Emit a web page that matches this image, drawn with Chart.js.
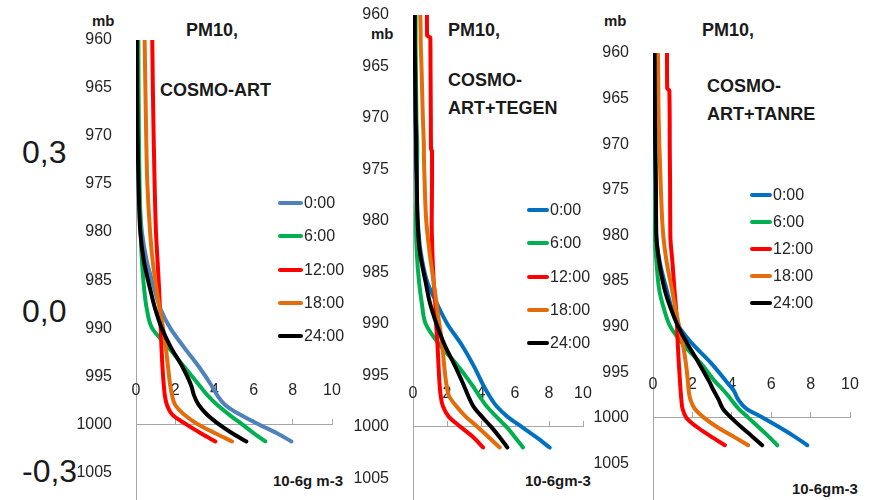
<!DOCTYPE html>
<html>
<head>
<meta charset="utf-8">
<title>PM10 vertical profiles</title>
<script src="https://cdn.jsdelivr.net/npm/chart.js"></script>
<style>
  html, body { margin: 0; padding: 0; width: 876px; height: 500px; overflow: hidden; background: #fff; }
  #page { position: relative; width: 876px; height: 500px; color: #1a1a1a;
          font-family: "Liberation Sans", Arial, sans-serif; }
  canvas { position: absolute; }
  .txt { position: absolute; white-space: nowrap; line-height: 1; transform: translateY(-50%); }
  .b { font-weight: bold; font-size: 15px; }
  .title { font-size: 18px; font-weight: bold; }
  .big { font-size: 32px; }
  .leg { position: absolute; display: flex; align-items: center; white-space: nowrap;
         font-size: 16px; line-height: 1; color: #262626; transform: translateY(-50%); }
  .leg i { display: inline-block; height: 4px; border-radius: 2px; margin-right: 1px; }
</style>
</head>
<body>
<div id="page">
  <div class="txt big" style="left:22px; top:152px">0,3</div>
  <div class="txt big" style="left:22px; top:311px">0,0</div>
  <div class="txt big" style="left:22px; top:471px">-0,3</div>

  <div class="txt b" style="left:92px; top:20px">mb</div>
  <div class="txt title" style="left:186px; top:30px">PM10,</div>
  <div class="txt title" style="left:160px; top:90px">COSMO-ART</div>
  <div class="txt b" style="left:273px; top:480px">10-6g m-3</div>

  <div class="txt b" style="left:371px; top:33px">mb</div>
  <div class="txt title" style="left:448px; top:30px">PM10,</div>
  <div class="txt title" style="left:448px; top:80px">COSMO-</div>
  <div class="txt title" style="left:448px; top:108px">ART+TEGEN</div>
  <div class="txt b" style="left:525px; top:480px">10-6gm-3</div>

  <div class="txt b" style="left:604px; top:20px">mb</div>
  <div class="txt title" style="left:702px; top:30px">PM10,</div>
  <div class="txt title" style="left:707px; top:86px">COSMO-</div>
  <div class="txt title" style="left:707px; top:114px">ART+TANRE</div>
  <div class="txt b" style="left:792px; top:488px">10-6gm-3</div>

  <canvas id="art" width="272" height="475" style="left:76px; top:26px"></canvas>
  <canvas id="tegen" width="246" height="499" style="left:353px; top:1px"></canvas>
  <canvas id="tanre" width="273" height="461" style="left:593px; top:39px"></canvas>
</div>

<script>
// ---- data ----
const seriesLabels = ['0:00', '6:00', '12:00', '18:00', '24:00'];
const xTicks = [0, 2, 4, 6, 8, 10];
const yTicks = [960, 965, 970, 975, 980, 985, 990, 995, 1000, 1005];

// COSMO-ART
const pressureArt = [960, 965, 970, 975, 980, 983, 986, 988, 990, 992, 994, 996, 997, 998, 999, 1000, 1001, 1001.8];
const art00 = [0.05, 0.06, 0.08, 0.14, 0.30, 0.55, 0.95, 1.25, 1.75, 2.45, 3.20, 3.86, 4.15, 4.55, 5.30, 6.25, 7.24, 7.93];
const art06 = [0.12, 0.13, 0.15, 0.18, 0.24, 0.30, 0.42, 0.55, 0.82, 1.65, 2.45, 3.25, 3.65, 4.15, 4.75, 5.40, 6.05, 6.60];
const art12 = [0.83, 0.86, 0.90, 0.95, 1.02, 1.10, 1.18, 1.22, 1.26, 1.30, 1.35, 1.42, 1.47, 1.58, 1.85, 2.55, 3.35, 4.05];
const art18 = [0.44, 0.48, 0.52, 0.58, 0.72, 0.85, 1.05, 1.21, 1.38, 1.52, 1.63, 1.75, 1.84, 2.00, 2.45, 3.15, 4.10, 4.90];
const art24 = [0.05, 0.06, 0.08, 0.13, 0.22, 0.40, 0.73, 0.98, 1.31, 1.78, 2.36, 2.82, 2.96, 3.20, 3.62, 4.22, 4.95, 5.63];

// COSMO-ART+TEGEN
const pressureTegen = [960, 962, 962.2, 965, 970, 973, 973.2, 976, 980, 983, 986, 988, 990, 992, 994, 996, 997, 998, 999, 1000, 1001, 1002];
const teg00 = [0.10, 0.10, 0.10, 0.11, 0.14, 0.17, 0.17, 0.20, 0.28, 0.45, 0.85, 1.40, 2.02, 2.85, 3.55, 4.15, 4.50, 4.92, 5.55, 6.40, 7.25, 8.04];
const teg06 = [0.15, 0.15, 0.15, 0.17, 0.20, 0.25, 0.25, 0.22, 0.18, 0.22, 0.36, 0.52, 0.75, 1.55, 2.60, 3.50, 3.90, 4.33, 4.90, 5.50, 6.00, 6.47];
const teg12 = [0.82, 0.83, 1.02, 1.03, 1.05, 1.06, 1.12, 1.12, 1.10, 1.14, 1.22, 1.31, 1.36, 1.44, 1.50, 1.57, 1.63, 1.76, 2.10, 2.80, 3.55, 4.12];
const teg18 = [0.43, 0.45, 0.45, 0.50, 0.58, 0.64, 0.64, 0.68, 0.78, 0.97, 1.22, 1.38, 1.55, 1.72, 1.83, 1.98, 2.12, 2.55, 3.10, 3.80, 4.45, 5.10];
const teg24 = [0.10, 0.10, 0.10, 0.12, 0.16, 0.19, 0.19, 0.22, 0.27, 0.40, 0.75, 1.00, 1.38, 1.85, 2.45, 3.00, 3.25, 3.55, 4.05, 4.60, 5.10, 5.55];

// COSMO-ART+TANRE
const pressureTanre = [960, 963.9, 964.1, 970, 975, 980, 983, 986, 988, 990, 992, 994, 996, 997, 998, 999, 1000, 1001, 1002, 1003];
const tan00 = [0.08, 0.09, 0.09, 0.10, 0.12, 0.16, 0.35, 0.70, 0.95, 1.32, 2.05, 2.95, 3.72, 4.10, 4.33, 4.75, 5.60, 6.40, 7.15, 7.83];
const tan06 = [0.12, 0.12, 0.12, 0.13, 0.12, 0.10, 0.18, 0.32, 0.55, 0.88, 1.55, 2.42, 3.15, 3.59, 3.97, 4.35, 4.85, 5.35, 5.85, 6.31];
const tan12 = [0.71, 0.72, 0.83, 0.85, 0.87, 0.88, 0.99, 1.09, 1.17, 1.22, 1.26, 1.31, 1.37, 1.40, 1.44, 1.50, 1.70, 2.23, 2.92, 3.65];
const tan18 = [0.25, 0.27, 0.27, 0.32, 0.40, 0.52, 0.70, 0.97, 1.14, 1.33, 1.52, 1.67, 1.77, 1.81, 1.90, 2.12, 2.60, 3.25, 4.05, 4.83];
const tan24 = [0.08, 0.09, 0.09, 0.11, 0.15, 0.17, 0.32, 0.60, 0.90, 1.28, 1.78, 2.33, 2.85, 3.08, 3.33, 3.55, 3.98, 4.48, 5.02, 5.54];

const colorsArt = ['#4F81BD', '#00B050', '#FF0000', '#E46C0A', '#000000'];
const colorsOther = ['#0070C0', '#00B050', '#FF0000', '#E46C0A', '#000000'];

// ---- drawing ----
const axisGray = '#A6A6A6';
const tickFont = { family: '"Liberation Sans", Arial, sans-serif', size: 16 };

function makeChart(id, pressure, series, colors, yMax, legendPos) {
  const datasets = series.map((vals, i) => ({
    label: seriesLabels[i],
    data: vals.map((v, k) => ({ x: v, y: pressure[k] })),
    borderColor: colors[i],
    borderWidth: 4,
    borderCapStyle: 'round',
    borderJoinStyle: 'round',
    pointRadius: 0,
    cubicInterpolationMode: 'monotone',
    order: series.length - i
  }));

  const chart = new Chart(document.getElementById(id), {
    type: 'line',
    data: { datasets },
    options: {
      responsive: false,
      animation: false,
      indexAxis: 'y',
      layout: { padding: { top: 14, right: 16, bottom: 0, left: 0 } },
      plugins: { legend: { display: false }, tooltip: { enabled: false } },
      scales: {
        y: {
          type: 'linear',
          reverse: true,
          min: 960,
          max: yMax,
          afterBuildTicks: s => { s.ticks = yTicks.map(v => ({ value: v })); },
          afterFit: s => { s.width = 60; s.paddingTop = 0; s.paddingBottom = 0; },
          border: { color: axisGray, width: 1 },
          grid: { display: false },
          ticks: { padding: 16, color: '#262626', font: tickFont, callback: v => String(v) }
        },
        x: {
          type: 'linear',
          min: 0,
          max: 10,
          position: { y: 1000 },
          afterBuildTicks: s => { s.ticks = xTicks.map(v => ({ value: v })); },
          afterFit: s => { s.height = 0; s.paddingLeft = 0; s.paddingRight = 0; },
          border: { color: axisGray, width: 1 },
          grid: { drawOnChartArea: false, color: axisGray, tickLength: -6 },
          ticks: { padding: -37, maxRotation: 0, autoSkip: false, color: '#262626', font: tickFont,
                   callback: v => String(v) }
        }
      }
    }
  });

  // legend built from the datasets
  const page = document.getElementById('page');
  chart.data.datasets.forEach((ds, i) => {
    const row = document.createElement('div');
    row.className = 'leg';
    row.style.left = legendPos.x + 'px';
    row.style.top = (legendPos.y + i * legendPos.dy) + 'px';
    const sw = document.createElement('i');
    sw.style.width = legendPos.w + 'px';
    sw.style.background = ds.borderColor;
    const t = document.createElement('span');
    t.textContent = ds.label;
    row.appendChild(sw);
    row.appendChild(t);
    page.appendChild(row);
  });
  return chart;
}

makeChart('art', pressureArt, [art00, art06, art12, art18, art24], colorsArt, 1008,
  { x: 278, y: 203, dy: 33.3, w: 25 });
makeChart('tegen', pressureTegen, [teg00, teg06, teg12, teg18, teg24], colorsOther, 1007.1,
  { x: 527, y: 210, dy: 33.3, w: 22 });
makeChart('tanre', pressureTanre, [tan00, tan06, tan12, tan18, tan24], colorsOther, 1009,
  { x: 750, y: 195, dy: 27, w: 22 });
</script>
</body>
</html>
